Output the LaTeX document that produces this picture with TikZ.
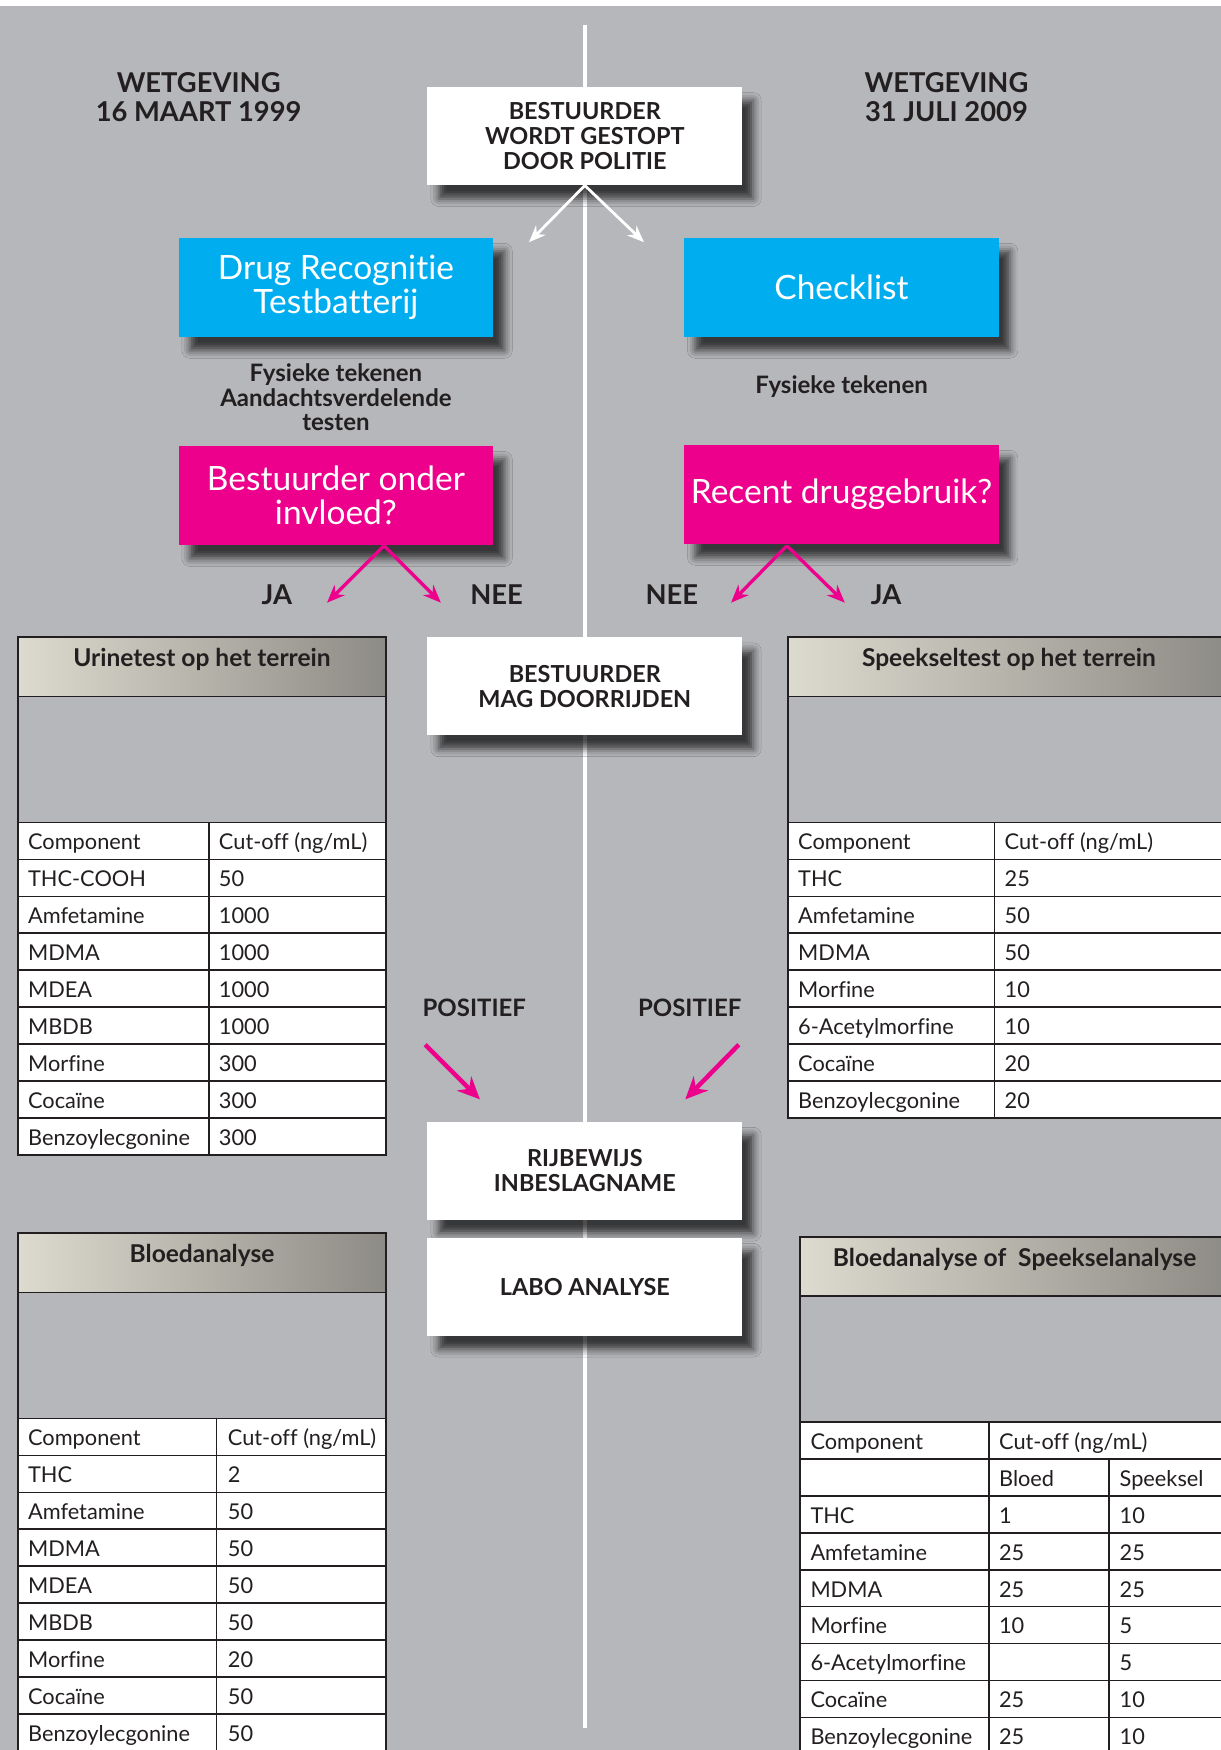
\documentclass[tikz,border=0pt]{standalone}
\usepackage{fontspec}
\setmainfont{Lato}[Ligatures=NoCommon]
\usetikzlibrary{arrows.meta,shadows.blur}
\definecolor{bggray}{RGB}{182,183,187}
\definecolor{inkdark}{RGB}{35,31,32}
\definecolor{cyanfill}{RGB}{0,174,239}
\definecolor{magentafill}{RGB}{236,0,140}
\definecolor{headlight}{RGB}{221,218,207}
\definecolor{headdark}{RGB}{141,139,133}
\newcommand{\cutoff}{Cut-off (ng/mL)}
\tikzset{
  boxshadow/.style={blur shadow={shadow xshift=10pt, shadow yshift=-12pt, shadow blur radius=7pt, shadow opacity=70}},
  whitebox/.style={boxshadow, fill=white, text=inkdark, minimum width=282pt, minimum height=88pt, inner sep=2pt, align=center, font=\bfseries\fontsize{21}{22.5}\selectfont},
  bluebox/.style={boxshadow, fill=cyanfill, text=white, minimum width=282pt, minimum height=89pt, inner sep=2pt, align=center, font=\fontsize{30}{30.5}\selectfont},
  pinkbox/.style={bluebox, fill=magentafill},
  title/.style={text=inkdark, align=center, font=\bfseries\fontsize{24.5}{26}\selectfont},
  note/.style={text=inkdark, align=center, font=\bfseries\fontsize{21.5}{22}\selectfont},
  answer/.style={text=inkdark, font=\bfseries\fontsize{24.5}{26}\selectfont},
  posword/.style={text=inkdark, font=\bfseries\fontsize{21.5}{24}\selectfont},
  headtext/.style={text=inkdark, anchor=base, inner sep=0pt, font=\bfseries\fontsize{22}{24}\selectfont},
  cell/.style={text=inkdark, anchor=base west, inner sep=0pt, font=\fontsize{19.5}{21}\selectfont},
  tableline/.style={draw=inkdark, line width=1.6pt},
  whitearrow/.style={white, line width=2.5pt, -{Stealth[length=15pt, width=12pt]}},
  pinkarrow/.style={magentafill, line width=3pt, -{Stealth[length=16pt, width=13pt]}},
  bigarrow/.style={magentafill, line width=4pt, -{Stealth[length=20pt, width=18pt]}}
}
\begin{document}
\begin{tikzpicture}[x=1pt, y=-1pt]
  \useasboundingbox (0,0) rectangle (1094,1568);
  \clip (0,0) rectangle (1094,1568);
  \fill[white] (0,0) rectangle (1094,1568);
  \fill[bggray] (0,5) rectangle (1094,1568);
  \draw[white, line width=3.5pt] (524,22) -- (524,1548);

  \node[title] (lawold) at (178,87) {WETGEVING\\16 MAART 1999};
  \node[title] (lawnew) at (848,87) {WETGEVING\\31 JULI 2009};

  \node[whitebox] (stop) at (524,122) {BESTUURDER\\WORDT GESTOPT\\DOOR POLITIE};
  \node[bluebox] (drt) at (301,257.5) {Drug Recognit\kern0pt ie\\Testbatterij};
  \node[bluebox] (check) at (754,257.5) {Checklist};
  \coordinate (toDrt) at (474,217);
  \coordinate (toCheck) at (577,217);
  \draw[whitearrow] (stop.south) -- (toDrt);
  \draw[whitearrow] (stop.south) -- (toCheck);

  \node[note] (signsL) at (301,356) {Fysieke tekenen\\Aandachtsverdelende\\testen};
  \node[note] (signsR) at (754,346) {Fysieke tekenen};

  \node[pinkbox] (invloed) at (301,444) {Bestuurder onder\\invloed?};
  \node[pinkbox] (recent) at (754,443) {Recent druggebruik?};
  \coordinate (forkL) at (344,489);
  \coordinate (jaL) at (293,540);
  \coordinate (neeL) at (395,540);
  \coordinate (forkR) at (705,489);
  \coordinate (neeR) at (655,540);
  \coordinate (jaR) at (757,540);
  \draw[pinkarrow] (forkL) -- (jaL);
  \draw[pinkarrow] (forkL) -- (neeL);
  \draw[pinkarrow] (forkR) -- (neeR);
  \draw[pinkarrow] (forkR) -- (jaR);
  \node[answer] (jaLtext) at (248,533) {JA};
  \node[answer] (neeLtext) at (445,533) {NEE};
  \node[answer] (neeRtext) at (602,533) {NEE};
  \node[answer] (jaRtext) at (794,533) {JA};

  \node[whitebox] (door) at (524,615) {BESTUURDER\\MAG DOORRIJDEN};

  \node[posword] (posL) at (425,903) {POSITIEF};
  \node[posword] (posR) at (618,903) {POSITIEF};
  \coordinate (posLfrom) at (381,936);
  \coordinate (posLto) at (430,985);
  \coordinate (posRfrom) at (662,936);
  \coordinate (posRto) at (614,985);
  \draw[bigarrow] (posLfrom) -- (posLto);
  \draw[bigarrow] (posRfrom) -- (posRto);

  \node[whitebox] (rijbewijs) at (524,1049) {RIJBEWIJS\\INBESLAGNAME};
  \node[whitebox] (labo) at (524,1153) {LABO ANALYSE};

  \shade[left color=headlight, right color=headdark] (16,571) rectangle (346,624);
  \draw[tableline] (16,571) rectangle (346,737);
  \draw[tableline] (16,624) -- (346,624);
  \node[headtext] (urinehead) at (181,597.5) {Urinetest op het terrein};
  \foreach \comp/\val [count=\r from 0] in {Component/\cutoff, THC-COOH/50, Amfetamine/1000, MDMA/1000, MDEA/1000, MBDB/1000, Morfine/300, Cocaïne/300, Benzoylecgonine/300} {
    \draw[tableline, fill=white] (16,737+33.1*\r) rectangle (187,770.1+33.1*\r);
    \draw[tableline, fill=white] (187,737+33.1*\r) rectangle (346,770.1+33.1*\r);
    \node[cell] (urineA\r) at (25,761.5+33.1*\r) {\comp};
    \node[cell] (urineB\r) at (196,761.5+33.1*\r) {\val};
  }

  \shade[left color=headlight, right color=headdark] (706,571) rectangle (1100,624);
  \draw[tableline] (706,571) rectangle (1100,737);
  \draw[tableline] (706,624) -- (1100,624);
  \node[headtext] (spithead) at (904,597.5) {Speekseltest op het terrein};
  \foreach \comp/\val [count=\r from 0] in {Component/\cutoff, THC/25, Amfetamine/50, MDMA/50, Morfine/10, 6-Acetylmorfine/10, Cocaïne/20, Benzoylecgonine/20} {
    \draw[tableline, fill=white] (706,737+33.1*\r) rectangle (891,770.1+33.1*\r);
    \draw[tableline, fill=white] (891,737+33.1*\r) rectangle (1100,770.1+33.1*\r);
    \node[cell] (spitA\r) at (715,761.5+33.1*\r) {\comp};
    \node[cell] (spitB\r) at (900,761.5+33.1*\r) {\val};
  }

  \shade[left color=headlight, right color=headdark] (16,1105) rectangle (346,1158);
  \draw[tableline] (16,1105) rectangle (346,1271);
  \draw[tableline] (16,1158) -- (346,1158);
  \node[headtext] (bloodhead) at (181,1131.5) {Bloedanalyse};
  \foreach \comp/\val [count=\r from 0] in {Component/\cutoff, THC/2, Amfetamine/50, MDMA/50, MDEA/50, MBDB/50, Morfine/20, Cocaïne/50, Benzoylecgonine/50} {
    \draw[tableline, fill=white] (16,1271+33.1*\r) rectangle (194,1304.1+33.1*\r);
    \draw[tableline, fill=white] (194,1271+33.1*\r) rectangle (346,1304.1+33.1*\r);
    \node[cell] (bloodA\r) at (25,1295.5+33.1*\r) {\comp};
    \node[cell] (bloodB\r) at (204,1295.5+33.1*\r) {\val};
  }

  \shade[left color=headlight, right color=headdark] (717,1108) rectangle (1100,1161);
  \draw[tableline] (717,1108) rectangle (1100,1274);
  \draw[tableline] (717,1161) -- (1100,1161);
  \node[headtext] (labhead) at (909,1135) {Bloedanalyse of\ \ Speekselanalyse};
  \draw[tableline, fill=white] (717,1274) rectangle (886,1307.1);
  \draw[tableline, fill=white] (886,1274) rectangle (1100,1307.1);
  \draw[tableline, fill=white] (717,1307.1) rectangle (886,1340.2);
  \draw[tableline, fill=white] (886,1307.1) rectangle (994,1340.2);
  \draw[tableline, fill=white] (994,1307.1) rectangle (1100,1340.2);
  \node[cell] (labA0) at (726,1298.5) {Component};
  \node[cell] (labB0) at (895,1298.5) {\cutoff};
  \node[cell] (labB1) at (895,1331.6) {Bloed};
  \node[cell] (labC1) at (1003,1331.6) {Speeksel};
  \foreach \comp/\bl/\sp [count=\r from 2] in {THC/1/10, Amfetamine/25/25, MDMA/25/25, Morfine/10/5, 6-Acetylmorfine/{}/5, Cocaïne/25/10, Benzoylecgonine/25/10} {
    \draw[tableline, fill=white] (717,1274+33.1*\r) rectangle (886,1307.1+33.1*\r);
    \draw[tableline, fill=white] (886,1274+33.1*\r) rectangle (994,1307.1+33.1*\r);
    \draw[tableline, fill=white] (994,1274+33.1*\r) rectangle (1100,1307.1+33.1*\r);
    \node[cell] (labA\r) at (726,1298.5+33.1*\r) {\comp};
    \node[cell] (labB\r) at (895,1298.5+33.1*\r) {\bl};
    \node[cell] (labC\r) at (1003,1298.5+33.1*\r) {\sp};
  }
\end{tikzpicture}
\end{document}
